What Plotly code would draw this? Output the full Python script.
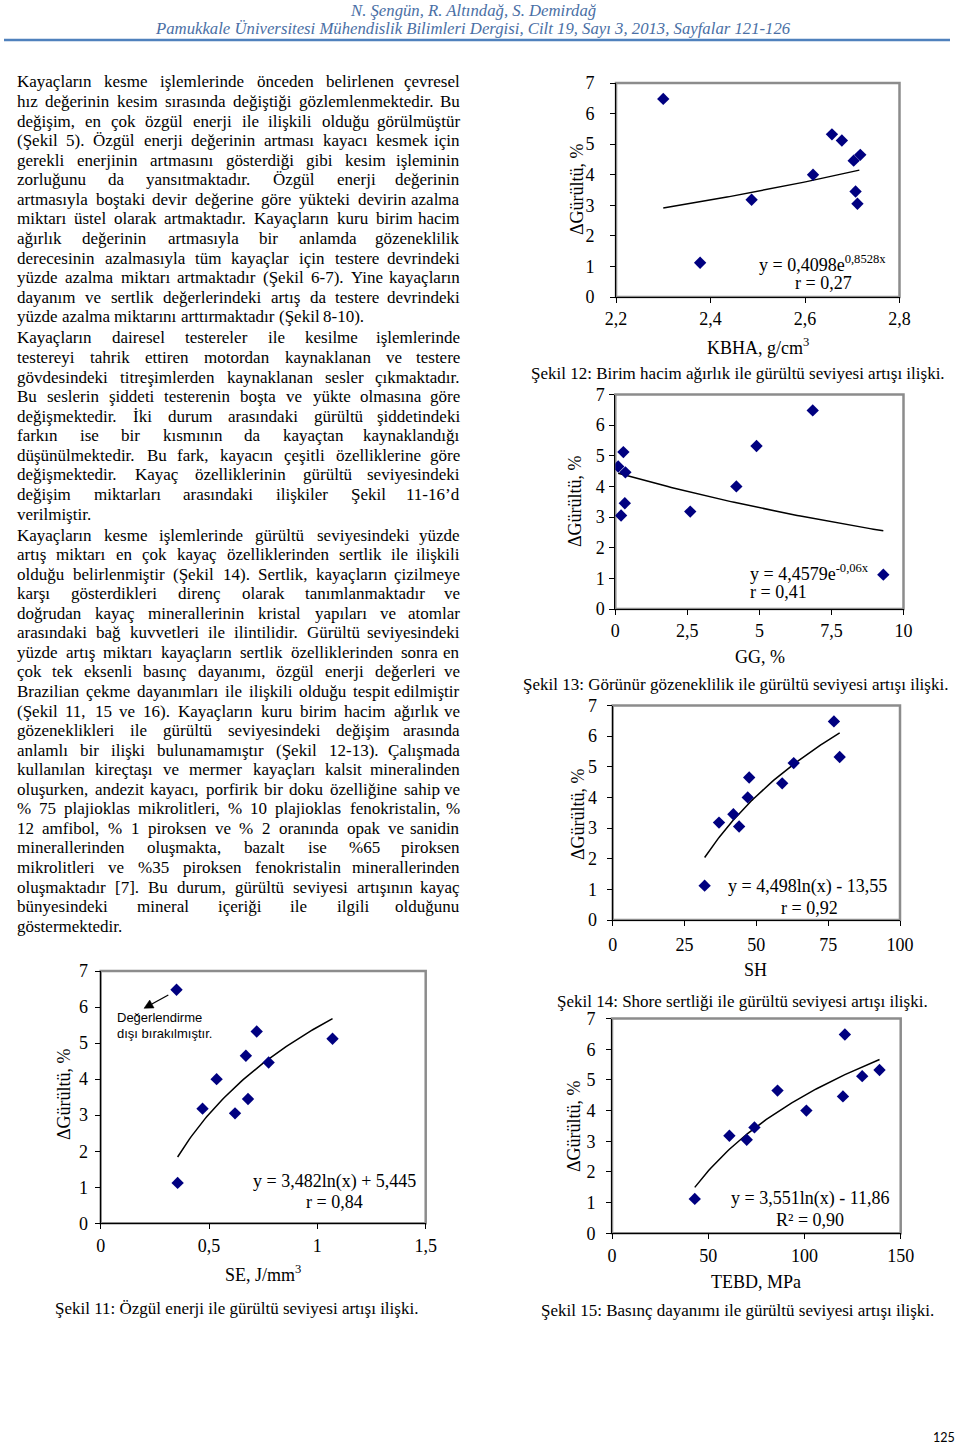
import plotly.graph_objects as go

W, H = 960, 1447
SERIF = "Liberation Serif"

# ---------------- data ----------------
noise_increase = [6.48, 1.12, 3.18, 4.00, 5.32, 5.12, 4.46, 4.65, 3.45, 3.05]
se_values = [0.350, 0.355, 0.470, 0.535, 0.720, 1.070, 0.775, 0.670, 0.680, 0.620]
kbha_values = [2.300, 2.378, 2.487, 2.617, 2.657, 2.678, 2.703, 2.717, 2.707, 2.711]
gg_values = [6.85, 9.30, 2.60, 4.20, 4.90, 0.28, 0.35, 0.10, 0.33, 0.20]
sh_values = [77, 32, 37, 47, 79, 63, 59, 47.5, 42, 44]
tebd_values = [121, 43, 61, 101, 139, 130, 120, 86, 74, 70]

y_tickvals = [0, 1, 2, 3, 4, 5, 6, 7]
y_ticktext = ["0", "1", "2", "3", "4", "5", "6", "7"]
se_tickvals = [0, 0.5, 1, 1.5]
se_ticktext = ["0", "0,5", "1", "1,5"]
kbha_tickvals = [2.2, 2.4, 2.6, 2.8]
kbha_ticktext = ["2,2", "2,4", "2,6", "2,8"]
gg_tickvals = [0, 2.5, 5, 7.5, 10]
gg_ticktext = ["0", "2,5", "5", "7,5", "10"]
sh_tickvals = [0, 25, 50, 75, 100]
sh_ticktext = ["0", "25", "50", "75", "100"]
tebd_tickvals = [0, 50, 100, 150]
tebd_ticktext = ["0", "50", "100", "150"]

# trend equations printed on the charts: (type, a, b, x_start, x_end)
trend_se = ("log", 3.482, 5.445, 0.355, 1.07)
trend_kbha = ("exp", 0.4098, 0.8528, 2.30, 2.715)
trend_gg = ("exp", 4.4579, -0.06, 0.10, 9.30)
trend_sh = ("log", 4.498, -13.55, 32, 79)
trend_tebd = ("log", 3.551, -11.86, 43, 139)

header_1 = "N. Şengün, R. Altındağ, S. Demirdağ"
header_2 = "Pamukkale Üniversitesi Mühendislik Bilimleri Dergisi, Cilt 19, Sayı 3, 2013, Sayfalar 121-126"
page_number = "125"

paragraphs = [
    [
        "Kayaçların kesme işlemlerinde önceden belirlenen çevresel",
        "hız değerinin kesim sırasında değiştiği gözlemlenmektedir. Bu",
        "değişim, en çok özgül enerji ile ilişkili olduğu görülmüştür",
        "(Şekil 5). Özgül enerji değerinin artması kayacı kesmek için",
        "gerekli enerjinin artmasını gösterdiği gibi kesim işleminin",
        "zorluğunu da yansıtmaktadır. Özgül enerji değerinin",
        "artmasıyla boştaki devir değerine göre yükteki devirin azalma",
        "miktarı üstel olarak artmaktadır. Kayaçların kuru birim hacim",
        "ağırlık değerinin artmasıyla bir anlamda gözeneklilik",
        "derecesinin azalmasıyla tüm kayaçlar için testere devrindeki",
        "yüzde azalma miktarı artmaktadır (Şekil 6-7). Yine kayaçların",
        "dayanım ve sertlik değerlerindeki artış da testere devrindeki",
        "yüzde azalma miktarını arttırmaktadır (Şekil 8-10).",
    ],
    [
        "Kayaçların dairesel testereler ile kesilme işlemlerinde",
        "testereyi tahrik ettiren motordan kaynaklanan ve testere",
        "gövdesindeki titreşimlerden kaynaklanan sesler çıkmaktadır.",
        "Bu seslerin şiddeti testerenin boşta ve yükte olmasına göre",
        "değişmektedir. İki durum arasındaki gürültü şiddetindeki",
        "farkın ise bir kısmının da kayaçtan kaynaklandığı",
        "düşünülmektedir. Bu fark, kayacın çeşitli özelliklerine göre",
        "değişmektedir. Kayaç özelliklerinin gürültü seviyesindeki",
        "değişim miktarları arasındaki ilişkiler Şekil 11-16’d",
        "verilmiştir.",
    ],
    [
        "Kayaçların kesme işlemlerinde gürültü seviyesindeki yüzde",
        "artış miktarı en çok kayaç özelliklerinden sertlik ile ilişkili",
        "olduğu belirlenmiştir (Şekil 14). Sertlik, kayaçların çizilmeye",
        "karşı gösterdikleri direnç olarak tanımlanmaktadır ve",
        "doğrudan kayaç minerallerinin kristal yapıları ve atomlar",
        "arasındaki bağ kuvvetleri ile ilintilidir. Gürültü seviyesindeki",
        "yüzde artış miktarı kayaçların sertlik özelliklerinden sonra en",
        "çok tek eksenli basınç dayanımı, özgül enerji değerleri ve",
        "Brazilian çekme dayanımları ile ilişkili olduğu tespit edilmiştir",
        "(Şekil 11, 15 ve 16). Kayaçların kuru birim hacim ağırlık ve",
        "gözeneklikleri ile gürültü seviyesindeki değişim arasında",
        "anlamlı bir ilişki bulunamamıştır (Şekil 12-13). Çalışmada",
        "kullanılan kireçtaşı ve mermer kayaçları kalsit mineralinden",
        "oluşurken, andezit kayacı, porfirik bir doku özelliğine sahip ve",
        "% 75 plajioklas mikrolitleri, % 10 plajioklas fenokristalin, %",
        "12 amfibol, % 1 piroksen ve % 2 oranında opak ve sanidin",
        "minerallerinden oluşmakta, bazalt ise %65 piroksen",
        "mikrolitleri ve %35 piroksen fenokristalin minerallerinden",
        "oluşmaktadır [7]. Bu durum, gürültü seviyesi artışının kayaç",
        "bünyesindeki mineral içeriği ile ilgili olduğunu",
        "göstermektedir.",
    ],
]

# ---------------- helpers ----------------
def px(x):
    return x / W


def py(y):
    return 1 - y / H


TIMES = {' ': 250, '!': 333, '%': 833, '(': 333, ')': 333, ',': 250, '-': 333, '.': 250,
         '/': 278, ':': 278, ';': 278, '[': 333, ']': 333, '’': 333, "'": 180}
for d in "0123456789":
    TIMES[d] = 500
TIMES.update(dict(A=722, B=667, C=667, D=722, E=611, F=556, G=722, H=722, I=333, J=389, K=722,
                  L=611, M=889, N=722, O=722, P=556, Q=722, R=667, S=556, T=611, U=722, V=722,
                  W=944, X=722, Y=722, Z=611))
TIMES.update(dict(a=444, b=500, c=444, d=500, e=444, f=333, g=500, h=500, i=278, j=278, k=500,
                  l=278, m=778, n=500, o=500, p=500, q=500, r=333, s=389, t=278, u=500, v=500,
                  w=722, x=500, y=500, z=444))
TIMES.update({'ç': 444, 'ğ': 500, 'ı': 278, 'ö': 500, 'ş': 389, 'ü': 500, 'İ': 333, 'Ş': 556,
              'Ö': 722, 'Ç': 667, 'Ü': 722, 'Ğ': 722})


def em_width(s):
    return sum(TIMES.get(ch, 500) for ch in s) / 1000.0


annotations = []
shapes = []


def text(x, y, s, size=17, family=SERIF, xanchor="center", color="black", angle=0):
    annotations.append(dict(x=px(x), y=py(y), xref="paper", yref="paper", text=s,
                            showarrow=False, xanchor=xanchor, yanchor="middle",
                            textangle=angle, borderpad=0,
                            font=dict(family=family, size=size, color=color)))


def trend_xy(spec, n=80):
    kind, a, b, x0, x1 = spec
    import math
    xs = [x0 + (x1 - x0) * k / n for k in range(n + 1)]
    if kind == "log":
        ys = [a * math.log(v) + b for v in xs]
    else:
        ys = [a * math.exp(b * v) for v in xs]
    return xs, ys


fig = go.Figure()

charts = [
    dict(x=se_values, trend=trend_se, box=(100.7, 425.7, 971, 1223.3), xr=[0, 1.5],
         tv=se_tickvals, tt=se_ticktext, ysd=3, xsd=1,
         ytitle=(64, 1094), xtitle=(263, 1273, "SE, J/mm<sup>3</sup>"),
         eq=[(334.5, 1181, "y = 3,482ln(x) + 5,445", "center"), (334, 1202.3, "r = 0,84", "center")],
         cap=(236.7, 1308, "Şekil 11: Özgül enerji ile gürültü seviyesi artışı ilişki.")),
    dict(x=kbha_values, trend=trend_kbha, box=(616, 899.5, 83, 297), xr=[2.2, 2.8],
         tv=kbha_tickvals, tt=kbha_ticktext, ysd=12, xsd=0,
         ytitle=(577, 189), xtitle=(757.5, 346, "KBHA, g/cm<sup>3</sup>"),
         eq=[(822, 263, "y = 0,4098e<sup>0,8528x</sup>", "center"), (823, 283, "r = 0,27", "center")],
         cap=(737.5, 373, "Şekil 12: Birim hacim ağırlık ile gürültü seviyesi artışı ilişki.")),
    dict(x=gg_values, trend=trend_gg, box=(615.3, 903.5, 394.5, 609), xr=[0, 10],
         tv=gg_tickvals, tt=gg_ticktext, ysd=1, xsd=0,
         ytitle=(575, 501), xtitle=(760, 656.7, "GG, %"),
         eq=[(749, 572.7, "y = 4,4579e<sup>-0,06x</sup>", "left"), (749, 591.7, "r = 0,41", "left")],
         cap=(735, 685, "Şekil 13: Görünür gözeneklilik ile gürültü seviyesi artışı ilişki.")),
    dict(x=sh_values, trend=trend_sh, box=(612.7, 900, 705.5, 920), xr=[0, 100],
         tv=sh_tickvals, tt=sh_ticktext, ysd=6, xsd=3,
         ytitle=(578, 814), xtitle=(755, 970, "SH"),
         eq=[(807.5, 886.7, "y = 4,498ln(x) - 13,55", "center"), (809, 908.3, "r = 0,92", "center")],
         cap=(742.5, 1001.5, "Şekil 14: Shore sertliği ile gürültü seviyesi artışı ilişki.")),
    dict(x=tebd_values, trend=trend_tebd, box=(612, 900.7, 1018.5, 1233.3), xr=[0, 150],
         tv=tebd_tickvals, tt=tebd_ticktext, ysd=7, xsd=1,
         ytitle=(574, 1126), xtitle=(756, 1281.7, "TEBD, MPa"),
         eq=[(810, 1198.3, "y = 3,551ln(x) - 11,86", "center"), (810, 1220, "R² = 0,90", "center")],
         cap=(737.5, 1310, "Şekil 15: Basınç dayanımı ile gürültü seviyesi artışı ilişki.")),
]

layout_axes = {}
for i, c in enumerate(charts, start=1):
    sfx = "" if i == 1 else str(i)
    L, R, T, B = c["box"]
    tx, ty = trend_xy(c["trend"])
    fig.add_trace(go.Scatter(x=tx, y=ty, mode="lines", line=dict(color="black", width=1.5),
                             xaxis="x" + sfx, yaxis="y" + sfx, hoverinfo="skip"))
    fig.add_trace(go.Scatter(x=c["x"], y=noise_increase, mode="markers",
                             marker=dict(symbol="diamond", size=9.5, color="#000080",
                                         line=dict(width=0)),
                             xaxis="x" + sfx, yaxis="y" + sfx))
    common = dict(showgrid=False, zeroline=False, showline=True, linecolor="black", linewidth=1,
                  ticks="outside", ticklen=5, tickcolor="black", tickwidth=1, automargin=False,
                  tickfont=dict(family=SERIF, size=18, color="black"))
    layout_axes["xaxis" + sfx] = dict(domain=[px(L), px(R)], range=c["xr"], anchor="y" + sfx,
                                      tickvals=c["tv"], ticktext=c["tt"],
                                      ticklabelstandoff=c["xsd"], **common)
    layout_axes["yaxis" + sfx] = dict(domain=[py(B), py(T)], range=[0, 7], anchor="x" + sfx,
                                      tickvals=y_tickvals, ticktext=y_ticktext,
                                      ticklabelstandoff=c["ysd"], **common)
    shapes.append(dict(type="rect", xref="paper", yref="paper", x0=px(L), x1=px(R),
                       y0=py(B), y1=py(T), line=dict(color="#8C8C8C", width=2.5),
                       layer="below"))
    text(c["ytitle"][0], c["ytitle"][1], "ΔGürültü, %", size=18, angle=-90)
    text(c["xtitle"][0], c["xtitle"][1], c["xtitle"][2], size=18)
    for ex, ey, es, ea in c["eq"]:
        text(ex, ey, es, size=18, xanchor=ea)
    text(c["cap"][0], c["cap"][1], c["cap"][2], size=17)

# excluded point note on figure 11: arrow line + filled arrowhead
tail = (168.3, 995.0)
tip = (144.0, 1008.3)
dx, dy = tip[0] - tail[0], tip[1] - tail[1]
ln = (dx * dx + dy * dy) ** 0.5
ux, uy = dx / ln, dy / ln
nx, ny = -uy, ux
head_len, head_half = 9.0, 4.5
bx, by = tip[0] - head_len * ux, tip[1] - head_len * uy
shapes.append(dict(type="line", xref="paper", yref="paper", x0=px(tail[0]), y0=py(tail[1]),
                   x1=px(bx), y1=py(by), line=dict(color="black", width=1.3)))
c1 = (bx + head_half * nx, by + head_half * ny)
c2 = (bx - head_half * nx, by - head_half * ny)
path = "M {} {} L {} {} L {} {} Z".format(px(tip[0]), py(tip[1]), px(c1[0]), py(c1[1]),
                                         px(c2[0]), py(c2[1]))
shapes.append(dict(type="path", xref="paper", yref="paper", path=path,
                   fillcolor="black", line=dict(color="black", width=0.5)))
text(116, 1017, "Değerlendirme", size=13, family="Liberation Sans", xanchor="left")
text(116, 1033, "dışı bırakılmıştır.", size=13, family="Liberation Sans", xanchor="left")

# ---------------- header ----------------
hdr_size = 637 / em_width(header_2)
text(472.5, 11, "<i>" + header_1 + "</i>", size=hdr_size, color="#4A6FA5")
text(472.5, 28.5, "<i>" + header_2 + "</i>", size=hdr_size, color="#4A6FA5")
shapes.append(dict(type="line", xref="paper", yref="paper", x0=px(4), x1=px(950),
                   y0=py(40), y1=py(40), line=dict(color="#4F81BD", width=2.5)))

# ---------------- body text (justified) ----------------
BODY_LEFT, BODY_RIGHT = 16, 461
body_w = BODY_RIGHT - BODY_LEFT
max_em = max(em_width(l) for p in paragraphs for l in p[:-1])
body_size = min(17.0, 0.985 * body_w / max_em)
para_y = [82, 338, 535]
step = 19.56
for p, y0 in zip(paragraphs, para_y):
    for j, line in enumerate(p):
        y = y0 + j * step
        words = line.split(" ")
        widths = [em_width(w) * body_size for w in words]
        justify = j < len(p) - 1 and len(words) > 1
        gap = (body_w - sum(widths)) / (len(words) - 1) if justify else 0.25 * body_size
        x = BODY_LEFT
        for k, (wd_s, wd) in enumerate(zip(words, widths)):
            if justify and k == len(words) - 1:
                text(BODY_RIGHT, y, wd_s, size=body_size, xanchor="right")
            else:
                text(x, y, wd_s, size=body_size, xanchor="left")
            x += wd + gap

text(944, 1437, page_number, size=12.5, family="Lato")

fig.update_layout(width=W, height=H, margin=dict(l=0, r=0, t=0, b=0, autoexpand=False),
                  paper_bgcolor="white", plot_bgcolor="white", showlegend=False,
                  annotations=annotations, shapes=shapes, **layout_axes)
fig.write_html("out.html", config={"displayModeBar": False},
               post_script="document.body.style.margin='0px';"
                           "document.body.style.overflow='hidden';")
